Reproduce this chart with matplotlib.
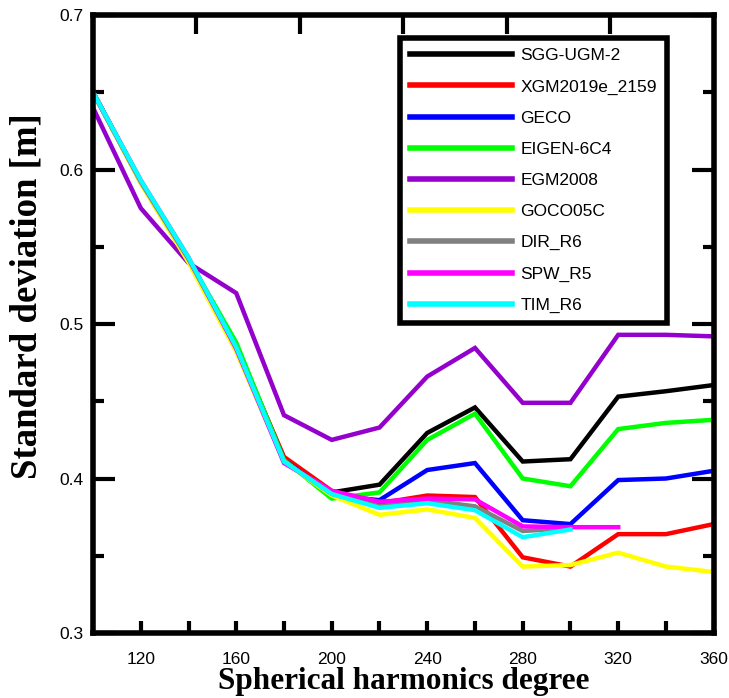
import matplotlib
matplotlib.use("Agg")
import matplotlib.pyplot as plt
import numpy as np

deg = [100, 120, 140, 160, 180, 200, 220, 240, 260, 280, 300, 320, 340, 360]

sgg   = [0.650, 0.592, 0.541, 0.486, 0.413, 0.391, 0.396, 0.4295, 0.446, 0.411, 0.4125, 0.453, 0.4565, 0.4605]
xgm   = [0.650, 0.592, 0.541, 0.485, 0.414, 0.392, 0.384, 0.389, 0.388, 0.349, 0.343, 0.364, 0.364, 0.3705]
geco  = [0.650, 0.592, 0.541, 0.485, 0.412, 0.389, 0.386, 0.4055, 0.410, 0.373, 0.3705, 0.399, 0.400, 0.405]
eigen = [0.650, 0.592, 0.542, 0.488, 0.412, 0.387, 0.391, 0.425, 0.442, 0.400, 0.395, 0.432, 0.436, 0.438]
egm   = [0.640, 0.575, 0.5395, 0.520, 0.441, 0.425, 0.433, 0.466, 0.4845, 0.449, 0.449, 0.493, 0.493, 0.492]
goco  = [0.650, 0.591, 0.540, 0.482, 0.411, 0.389, 0.3765, 0.380, 0.3745, 0.343, 0.344, 0.352, 0.343, 0.3395]
dir_deg = deg[:11]
dir6  = [0.650, 0.592, 0.542, 0.485, 0.411, 0.390, 0.382, 0.386, 0.382, 0.366, 0.368]
spw_deg = deg[:12]
spw5  = [0.650, 0.593, 0.543, 0.484, 0.410, 0.392, 0.385, 0.387, 0.3865, 0.369, 0.3685, 0.3685]
tim_deg = deg[:11]
tim6  = [0.650, 0.593, 0.543, 0.485, 0.411, 0.390, 0.381, 0.384, 0.3795, 0.362, 0.367]

series = [
    ("SGG-UGM-2", deg, sgg, "#000000"),
    ("XGM2019e_2159", deg, xgm, "#FF0000"),
    ("GECO", deg, geco, "#0000FF"),
    ("EIGEN-6C4", deg, eigen, "#00FF00"),
    ("EGM2008", deg, egm, "#9400CC"),
    ("GOCO05C", deg, goco, "#FFFF00"),
    ("DIR_R6", dir_deg, dir6, "#808080"),
    ("SPW_R5", spw_deg, spw5, "#FF00FF"),
    ("TIM_R6", tim_deg, tim6, "#00FFFF"),
]

xtick_labels = [120, 160, 200, 240, 280, 320, 360]
ytick_labels = [0.3, 0.4, 0.5, 0.6, 0.7]

fig = plt.figure(figsize=(7.29, 6.98), dpi=100)
ax = fig.add_axes([0.1276, 0.0931, 0.8514, 0.8854])

for name, x, y, c in series:
    ax.plot(x, y, color=c, lw=3.2, label=name, solid_joinstyle='miter')

ax.set_xlim(100, 360)
ax.set_ylim(0.3, 0.7)

ax.set_xticks(xtick_labels)
ax.set_xticklabels([str(v) for v in xtick_labels], fontfamily="Liberation Sans", fontsize=12.5)
ax.set_xticks(np.arange(140, 360, 40), minor=True)
ax.set_yticks(ytick_labels)
ax.set_yticklabels([f"{v:.1f}" for v in ytick_labels], fontfamily="Liberation Sans", fontsize=12.5)
ax.set_yticks(np.arange(0.35, 0.7, 0.1), minor=True)

ax.tick_params(axis='x', which='both', direction='in', length=9, width=3, pad=14, top=False)
ax.tick_params(axis='y', which='major', direction='in', length=16, width=3, pad=7, right=True)
ax.tick_params(axis='y', which='minor', direction='in', length=8, width=3, right=True)

for s in ax.spines.values():
    s.set_linewidth(4)

# top axis ticks (six equal divisions)
axt = ax.twiny()
axt.set_xlim(0, 6)
axt.set_xticks([1, 2, 3, 4, 5])
axt.set_xticklabels([])
axt.tick_params(axis='x', direction='in', length=14, width=3)
for s in axt.spines.values():
    s.set_visible(False)

ax.set_xlabel("Spherical harmonics degree", fontfamily="Liberation Serif",
              fontweight="bold", fontsize=22.5, labelpad=0)
ax.set_ylabel("Standard deviation [m]", fontfamily="Liberation Serif",
              fontweight="bold", fontsize=26.5)
ax.yaxis.set_label_coords(-0.078, 0.545)

leg = ax.legend(loc="upper right", bbox_to_anchor=(0.925, 0.963), frameon=True,
                fancybox=False, edgecolor="black", framealpha=1,
                prop={"family": "Liberation Sans", "size": 12.5},
                handlelength=5.9, handletextpad=0.45, labelspacing=0.92,
                borderpad=0.6, borderaxespad=0)
leg.get_frame().set_linewidth(4)
for h in leg.get_lines():
    h.set_linewidth(4)

fig.savefig("out.png", dpi=100)
